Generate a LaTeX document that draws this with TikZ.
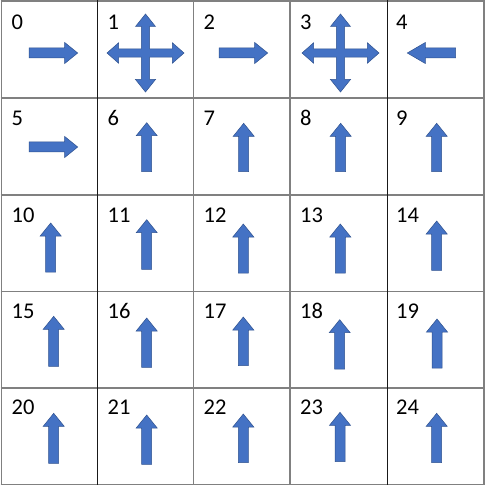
\documentclass[tikz,border=0pt]{standalone}
\usepackage{fontspec}
\setmainfont{Carlito}
\definecolor{arrblue}{HTML}{4472C4}
\definecolor{arredge}{HTML}{2F528F}
\definecolor{gridgray}{HTML}{808080}
\tikzset{
  arr/.style={fill=arrblue,draw=arredge,line width=0.5pt},
  glinegray/.style={draw=gridgray,line width=1.2pt},
  glineblack/.style={draw=black!90,line width=1pt},
  lbl/.style={anchor=base west,inner sep=0pt,font=\fontsize{22.5}{26}\selectfont}
}
\newcommand\uparr[3]{\filldraw[arr,shift={(#1,#2)}] (-5,#3) -- (-5,13) -- (-10.5,13) -- (0,0) -- (10.5,13) -- (5,13) -- (5,#3) -- cycle;}
\newcommand\rarr[3]{\filldraw[arr,shift={(#2,#3)}] (#1,-5) -- (-13,-5) -- (-13,-10.5) -- (0,0) -- (-13,10.5) -- (-13,5) -- (#1,5) -- cycle;}
\newcommand\crossarr[2]{\filldraw[arr,shift={(#1,#2)}] (0,-39) -- (10,-26.5) -- (4.2,-26.5) -- (4.2,-4.2) -- (26.8,-4.2) -- (26.8,-10.3) -- (38.5,0) -- (26.8,10.3) -- (26.8,4.2) -- (4.2,4.2) -- (4.2,26.5) -- (10,26.5) -- (0,39) -- (-10,26.5) -- (-4.2,26.5) -- (-4.2,4.2) -- (-26.8,4.2) -- (-26.8,10.3) -- (-38.5,0) -- (-26.8,-10.3) -- (-26.8,-4.2) -- (-4.2,-4.2) -- (-4.2,-26.5) -- (-10,-26.5) -- cycle;}
\begin{document}
\begin{tikzpicture}[x=1pt,y=-1pt]
\useasboundingbox (0,0) rectangle (485,486);
\fill[white] (0,0) rectangle (485,486);
% grid
\foreach \yy in {1,98,195,291.5,388,484.5} \draw[glinegray] (0.5,\yy) -- (484.5,\yy);
\foreach \xx in {1.2,193.5,290,484} \draw[glinegray] (\xx,0.5) -- (\xx,485);
\foreach \xx in {97,387} \draw[glineblack] (\xx,0.5) -- (\xx,485);
% labels
\node[lbl] (n0) at (11.5,30) {0};
\node[lbl] (n1) at (107.5,30) {1};
\node[lbl] (n2) at (203.5,30) {2};
\node[lbl] (n3) at (300,30) {3};
\node[lbl] (n4) at (396,30) {4};
\node[lbl] (n5) at (11.5,126) {5};
\node[lbl] (n6) at (107.5,126) {6};
\node[lbl] (n7) at (203.5,126) {7};
\node[lbl] (n8) at (300,126) {8};
\node[lbl] (n9) at (396,126) {9};
\node[lbl] (n10) at (11.5,222.5) {10};
\node[lbl] (n11) at (107.5,222.5) {11};
\node[lbl] (n12) at (203.5,222.5) {12};
\node[lbl] (n13) at (300,222.5) {13};
\node[lbl] (n14) at (396,222.5) {14};
\node[lbl] (n15) at (11.5,318.5) {15};
\node[lbl] (n16) at (107.5,318.5) {16};
\node[lbl] (n17) at (203.5,318.5) {17};
\node[lbl] (n18) at (300,318.5) {18};
\node[lbl] (n19) at (396,318.5) {19};
\node[lbl] (n20) at (11.5,414.5) {20};
\node[lbl] (n21) at (107.5,414.5) {21};
\node[lbl] (n22) at (203.5,414.5) {22};
\node[lbl] (n23) at (300,414.5) {23};
\node[lbl] (n24) at (396,414.5) {24};
% row 0
\rarr{-48.7}{77.7}{53}
\crossarr{145.5}{53}
\rarr{-48.7}{267.7}{53}
\crossarr{340.5}{53}
\filldraw[arr,shift={(407.3,53)}] (48.4,-5) -- (18,-5) -- (18,-10.5) -- (0,0) -- (18,10.5) -- (18,5) -- (48.4,5) -- cycle;
% row 1
\rarr{-48.7}{77.7}{147}
\uparr{146.7}{122.7}{49}
\uparr{243.7}{123.3}{48.4}
\uparr{340.7}{123.3}{48.4}
\uparr{436.7}{123.3}{48.4}
% row 2
\uparr{50.7}{223}{49}
\uparr{146.7}{219.7}{49.6}
\uparr{243.3}{224}{49}
\uparr{340.3}{224}{49}
\uparr{436.7}{221}{49.3}
% row 3
\uparr{53.7}{316.3}{50}
\uparr{146.7}{318}{49.3}
\uparr{243.3}{317}{48.7}
\uparr{339.7}{319.7}{49.3}
\uparr{437}{319}{49}
% row 4
\uparr{53.7}{413.3}{50}
\uparr{146.7}{415}{49.3}
\uparr{243.3}{414}{48.7}
\uparr{340}{412.3}{49.4}
\uparr{436.7}{413.3}{49.4}
\end{tikzpicture}
\end{document}
